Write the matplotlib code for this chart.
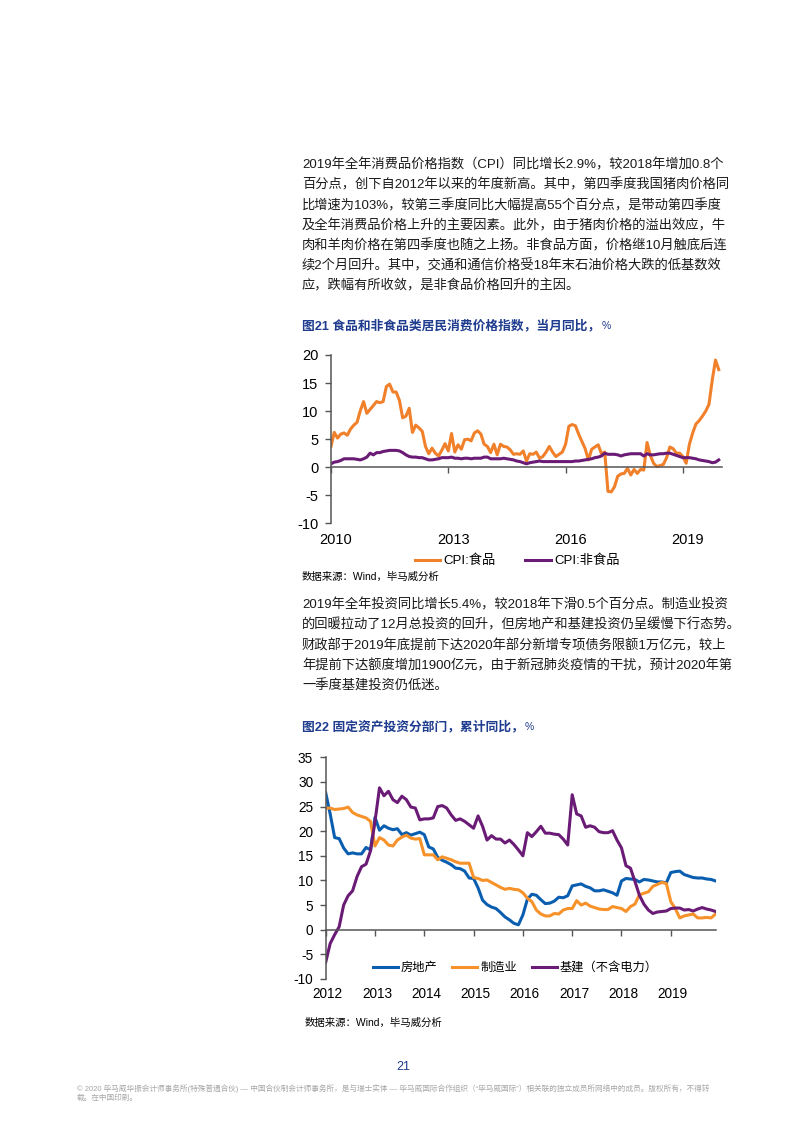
import numpy as np
import matplotlib
matplotlib.use("Agg")
import matplotlib.pyplot as plt
from matplotlib.transforms import ScaledTranslation

plt.rcParams['font.family'] = ['Liberation Sans', 'Noto Sans CJK SC']
plt.rcParams['axes.unicode_minus'] = False

# ---- page text ----
para1 = [
    "2019年全年消费品价格指数（CPI）同比增长2.9%，较2018年增加0.8个",
    "百分点，创下自2012年以来的年度新高。其中，第四季度我国猪肉价格同",
    "比增速为103%，较第三季度同比大幅提高55个百分点，是带动第四季度",
    "及全年消费品价格上升的主要因素。此外，由于猪肉价格的溢出效应，牛",
    "肉和羊肉价格在第四季度也随之上扬。非食品方面，价格继10月触底后连",
    "续2个月回升。其中，交通和通信价格受18年末石油价格大跌的低基数效",
    "应，跌幅有所收敛，是非食品价格回升的主因。",
]
para2 = [
    "2019年全年投资同比增长5.4%，较2018年下滑0.5个百分点。制造业投资",
    "的回暖拉动了12月总投资的回升，但房地产和基建投资仍呈缓慢下行态势。",
    "财政部于2019年底提前下达2020年部分新增专项债务限额1万亿元，较上",
    "年提前下达额度增加1900亿元，由于新冠肺炎疫情的干扰，预计2020年第",
    "一季度基建投资仍低迷。",
]
caption1 = "图21 食品和非食品类居民消费价格指数，当月同比，"
caption2 = "图22 固定资产投资分部门，累计同比，"
source_note = "数据来源：Wind，毕马威分析"
footer = [
    "© 2020 毕马威华振会计师事务所(特殊普通合伙) — 中国合伙制会计师事务所，是与瑞士实体 — 毕马威国际合作组织（“毕马威国际”）相关联的独立成员所网络中的成员。版权所有，不得转",
    "载。在中国印刷。",
]
page_no = "21"

# ---- chart 21: CPI yoy, monthly Jan 2010 - Dec 2019 ----
cpi_food = [
    3.7, 6.2, 5.2, 5.9, 6.1, 5.7, 6.8, 7.5, 8.0, 10.1, 11.7, 9.6,
    10.3, 11.0, 11.7, 11.5, 11.7, 14.4, 14.8, 13.4, 13.4, 11.9, 8.8, 9.1,
    10.5, 6.2, 7.5, 7.0, 6.4, 3.7, 2.4, 3.4, 2.5, 2.0, 3.0, 4.2,
    2.9, 6.0, 2.7, 4.0, 3.2, 4.9, 5.0, 4.7, 6.1, 6.5, 5.9, 4.1,
    3.7, 2.6, 4.1, 2.2, 4.1, 3.7, 3.6, 3.1, 2.3, 2.4, 2.3, 2.9,
    1.1, 2.4, 2.3, 2.7, 1.6, 1.9, 2.7, 3.7, 2.7, 1.9, 2.3, 2.7,
    4.1, 7.3, 7.6, 7.4, 5.9, 4.6, 3.3, 1.3, 3.2, 3.6, 4.0, 2.4,
    2.7, -4.3, -4.4, -3.5, -1.6, -1.2, -1.1, -0.2, -1.4, -0.4, -1.1, -0.4,
    -0.5, 4.4, 2.1, 0.7, 0.1, 0.3, 0.5, 1.7, 3.6, 3.3, 2.5, 2.5,
    1.9, 0.7, 4.1, 6.1, 7.7, 8.3, 9.1, 10.0, 11.2, 15.5, 19.1, 17.4,
]
cpi_nonfood = [
    0.6, 0.9, 1.0, 1.2, 1.5, 1.5, 1.5, 1.5, 1.4, 1.3, 1.5, 1.8,
    2.5, 2.2, 2.6, 2.6, 2.8, 2.9, 3.0, 3.0, 3.0, 2.9, 2.6, 2.2,
    1.9, 1.8, 1.8, 1.7, 1.7, 1.5, 1.3, 1.3, 1.4, 1.5, 1.7, 1.7,
    1.7, 1.8, 1.6, 1.6, 1.5, 1.6, 1.6, 1.5, 1.6, 1.6, 1.6, 1.8,
    1.8, 1.5, 1.5, 1.5, 1.5, 1.6, 1.5, 1.4, 1.3, 1.1, 1.0, 0.8,
    0.6, 0.8, 0.9, 1.0, 1.1, 1.0, 1.0, 1.0, 1.0, 1.0, 1.0, 1.0,
    1.0, 1.0, 1.0, 1.1, 1.1, 1.2, 1.3, 1.4, 1.5, 1.7, 1.8, 2.0,
    2.5, 2.3, 2.3, 2.3, 2.2, 2.0, 2.2, 2.3, 2.4, 2.4, 2.4, 2.4,
    2.0, 2.4, 2.2, 2.2, 2.3, 2.4, 2.4, 2.5, 2.5, 2.3, 2.1, 1.9,
    1.7, 1.7, 1.7, 1.6, 1.5, 1.3, 1.2, 1.1, 1.0, 0.8, 0.9, 1.3,
]
cpi_start = 2010
cpi_ticks = [2010, 2013, 2016, 2019]
cpi_labels = ["CPI:食品", "CPI:非食品"]

# ---- chart 22: FAI cumulative yoy, Feb-Dec each year 2012-2019 ----
fai_years = list(range(2012, 2020))
fai_property = [
    27.8, 23.5, 18.7, 18.5, 16.6, 15.4, 15.6, 15.4, 15.4, 16.7, 16.2,
    22.8, 20.2, 21.1, 20.6, 20.3, 20.5, 19.3, 19.7, 19.2, 19.5, 19.8,
    19.3, 16.8, 16.4, 14.7, 14.1, 13.7, 13.2, 12.5, 12.4, 11.9, 10.5,
    10.4, 8.5, 6.0, 5.1, 4.6, 4.3, 3.5, 2.6, 2.0, 1.3, 1.0,
    3.0, 6.2, 7.2, 7.0, 6.1, 5.3, 5.4, 5.8, 6.6, 6.5, 6.9,
    8.9, 9.1, 9.3, 8.8, 8.5, 7.9, 7.9, 8.1, 7.8, 7.5, 7.0,
    9.9, 10.4, 10.3, 10.2, 9.7, 10.2, 10.1, 9.9, 9.7, 9.7, 9.5,
    11.6, 11.8, 11.9, 11.2, 10.9, 10.6, 10.5, 10.5, 10.3, 10.2, 9.9,
]
fai_manuf = [
    24.7, 24.7, 24.4, 24.5, 24.6, 24.9, 23.8, 23.3, 23.0, 22.7, 22.0,
    17.0, 18.7, 18.2, 17.2, 17.0, 18.2, 18.8, 19.2, 18.6, 18.4, 18.5,
    15.2, 15.2, 15.2, 14.2, 14.8, 14.5, 14.2, 13.8, 13.5, 13.5, 13.5,
    10.6, 10.4, 10.0, 10.1, 9.6, 9.1, 8.6, 8.2, 8.4, 8.2, 8.1,
    7.5, 6.4, 5.7, 4.0, 3.2, 2.8, 2.8, 3.3, 3.2, 4.0, 4.3,
    4.3, 5.9, 5.0, 5.4, 4.8, 4.5, 4.2, 4.1, 4.1, 4.7, 4.5,
    4.3, 3.7, 4.7, 5.2, 7.1, 7.4, 7.7, 8.8, 9.2, 9.6, 9.4,
    5.7, 4.3, 2.4, 2.8, 3.0, 3.2, 2.4, 2.4, 2.5, 2.4, 3.2,
]
fai_infra = [
    -6.6, -2.8, -1.0, 0.6, 5.0, 6.9, 7.9, 10.8, 12.8, 13.3, 16.0,
    22.0, 28.8, 27.2, 28.1, 26.4, 25.8, 27.1, 26.4, 24.9, 24.7, 22.3,
    22.5, 22.5, 22.7, 25.0, 25.2, 24.7, 23.3, 22.2, 22.5, 22.0, 21.3,
    20.6, 23.1, 21.0, 18.2, 19.1, 18.4, 18.4, 17.6, 18.2, 17.3, 16.2,
    15.0, 19.7, 18.9, 19.9, 21.0, 19.6, 19.6, 19.4, 19.3, 18.4, 17.2,
    27.4, 23.5, 23.1, 20.8, 21.1, 20.8, 19.9, 19.7, 19.7, 20.1, 18.2,
    16.6, 13.0, 12.5, 9.8, 7.0, 5.2, 4.0, 3.3, 3.6, 3.7, 3.8,
    4.3, 4.4, 4.4, 4.0, 4.1, 3.8, 4.2, 4.5, 4.2, 4.0, 3.7,
]
fai_labels = ["房地产", "制造业", "基建（不含电力）"]

ORANGE = "#F0802A"
ORANGE2 = "#F7922A"
PURPLE = "#6A1B75"
BLUE = "#0A5EB0"
NAVY = "#1F3C8F"
AXIS = "#555555"

W, H = 800, 1122
fig = plt.figure(figsize=(W / 100, H / 100), dpi=100)


def fx(x):
    return x / W


def fy(y):
    return 1 - y / H


def axes_px(left, top, right, bottom):
    return fig.add_axes([fx(left), fy(bottom), (right - left) / W, (bottom - top) / H])


def style_axes(ax, ymin, ymax, ystep, ysize):
    for s in ['top', 'right']:
        ax.spines[s].set_visible(False)
    ax.spines['left'].set_color(AXIS)
    ax.spines['bottom'].set_color(AXIS)
    ax.spines['left'].set_linewidth(1.1)
    ax.spines['bottom'].set_linewidth(1.1)
    ax.spines['bottom'].set_position(('data', 0))
    ax.set_ylim(ymin, ymax)
    ax.set_yticks(np.arange(ymin, ymax + 1, ystep))
    ax.tick_params(axis='y', direction='out', length=4, width=1, color=AXIS,
                   pad=5, labelsize=ysize)
    ax.tick_params(axis='x', direction='out', length=4, width=1, color=AXIS,
                   labelbottom=False)
    ax.patch.set_visible(False)


def year_labels(ax, years, dy_px, dx_px, size):
    # labels sit under the plot area, the ticks stay on the zero line
    off = ScaledTranslation(dx_px / 100, -dy_px / 100, fig.dpi_scale_trans)
    for yr in years:
        ax.text(yr, 0, str(yr), transform=ax.get_xaxis_transform() + off,
                ha='center', va='center', fontsize=size)


def caption(y, txt):
    t = fig.text(fx(302), fy(y), txt, fontsize=9.2, weight='bold', va='center', color=NAVY)
    fig.canvas.draw()
    bb = t.get_window_extent()
    fig.text(bb.x1 / W + 1 / W, fy(y), "%", fontsize=7.5, va='center', color=NAVY)


# ---- text blocks ----
for i, line in enumerate(para1):
    fig.text(fx(302), fy(165 + i * 20.2), line, fontsize=9.55, va='center', color='#1a1a1a')
caption(326, caption1)

for i, line in enumerate(para2):
    fig.text(fx(302), fy(605 + i * 20.2), line, fontsize=9.55, va='center', color='#1a1a1a')
caption(727, caption2)

fig.text(fx(302), fy(577), source_note, fontsize=7.5, va='center')
fig.text(fx(305), fy(1023), source_note, fontsize=7.5, va='center')

fig.text(fx(403), fy(1067), page_no, fontsize=9, va='center', ha='center', color=NAVY)
for i, line in enumerate(footer):
    fig.text(fx(77), fy(1089 + i * 9.5), line, fontsize=5.5, va='center', color='#a6a6a6')

# ---- chart 21 ----
ax1 = axes_px(331, 355, 722, 523.3)
x1 = cpi_start + np.arange(len(cpi_food)) / 12
ax1.plot(x1, cpi_food, color=ORANGE, lw=2.2, label=cpi_labels[0], solid_joinstyle='round')
ax1.plot(x1, cpi_nonfood, color=PURPLE, lw=2.2, label=cpi_labels[1], solid_joinstyle='round')
ax1.set_xlim(cpi_start, cpi_start + 10)
ax1.set_xticks(cpi_ticks)
style_axes(ax1, -10, 20, 5, 10.5)
year_labels(ax1, cpi_ticks, 17, 5, 10.5)
ax1.legend(loc='center', bbox_to_anchor=(0.476, -0.224), ncol=2, frameon=False,
           fontsize=9.5, handlelength=1.95, handletextpad=0.25, columnspacing=2.2)

# ---- chart 22 ----
ax2 = axes_px(325.7, 757.3, 716, 979)
x2 = np.repeat(fai_years, 11) + np.tile(np.arange(11) / 11, len(fai_years))
ax2.plot(x2, fai_property, color=BLUE, lw=2.2, label=fai_labels[0], solid_joinstyle='round')
ax2.plot(x2, fai_manuf, color=ORANGE2, lw=2.2, label=fai_labels[1], solid_joinstyle='round')
ax2.plot(x2, fai_infra, color=PURPLE, lw=2.2, label=fai_labels[2], solid_joinstyle='round')
ax2.set_xlim(fai_years[0], fai_years[-1] + 0.917)
ax2.set_xticks(fai_years)
style_axes(ax2, -10, 35, 5, 9.8)
year_labels(ax2, fai_years, 15, 2, 9.8)
ax2.legend(loc='center', bbox_to_anchor=(0.486, 0.05), ncol=3, frameon=False,
           fontsize=8.8, handlelength=2.05, handletextpad=0.25, columnspacing=1.2)

fig.savefig("out.png", dpi=100)
